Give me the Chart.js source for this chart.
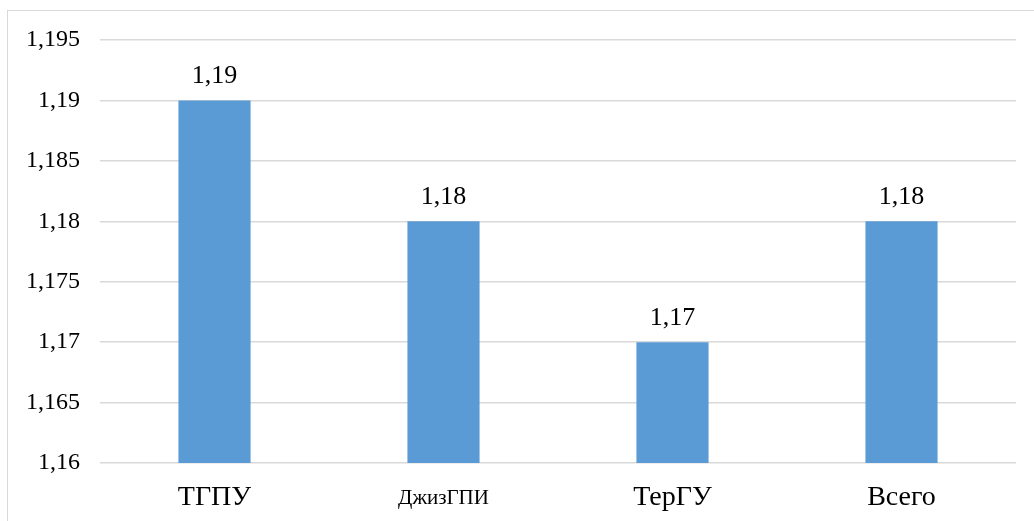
<!DOCTYPE html>
<html>
<head>
<meta charset="utf-8">
<script src="https://cdn.jsdelivr.net/npm/chart.js@4"></script>
<style>
  html, body { margin: 0; padding: 0; background: #fff; }
  #wrap { position: relative; width: 1034px; height: 521px; overflow: hidden; }
  #frame { position: absolute; left: 7px; top: 10px; width: 1040px; height: 530px; border: 1px solid #d9d9d9; box-sizing: border-box; }
  canvas { position: absolute; left: 0; top: 0; }
</style>
</head>
<body>
<div id="wrap">
  <div id="frame"></div>
  <canvas id="c" width="1034" height="521"></canvas>
</div>
<script>
// данные диаграммы
const categories = ['ТГПУ', 'ДжизГПИ', 'ТерГУ', 'Всего'];
const values = [1.19, 1.18, 1.17, 1.18];
const yMin = 1.16;
const yMax = 1.195;
const yStep = 0.005;

const fmt = v => Number(v.toFixed(3)).toString().replace('.', ',');

// подписи над столбцами
const barLabels = {
    id: 'barLabels',
    afterDatasetsDraw(chart) {
        const ctx = chart.ctx;
        const meta = chart.getDatasetMeta(0);
        ctx.save();
        ctx.font = '26px "Liberation Serif"';
        ctx.fillStyle = '#000';
        ctx.textAlign = 'center';
        ctx.textBaseline = 'alphabetic';
        meta.data.forEach((bar, i) => {
            ctx.fillText(fmt(values[i]), bar.x, bar.y - 17);
        });
        ctx.restore();
    }
};

new Chart(document.getElementById('c'), {
    type: 'bar',
    data: {
        labels: categories,
        datasets: [{
            data: values,
            backgroundColor: '#5b9bd5',
            categoryPercentage: 1,
            barPercentage: 0.315
        }]
    },
    options: {
        responsive: false,
        animation: false,
        layout: { padding: { left: 0, top: 40, right: 18, bottom: 0 } },
        plugins: {
            legend: { display: false },
            tooltip: { enabled: false }
        },
        scales: {
            x: {
                grid: { display: false },
                border: { display: false },
                afterFit: s => { s.height = 58; },
                ticks: {
                    color: '#000',
                    padding: 10,
                    maxRotation: 0,
                    font: c => ({ family: '"Liberation Serif"', size: c.index === 1 ? 21 : 28, lineHeight: '34px' })
                }
            },
            y: {
                min: yMin,
                max: yMax,
                afterFit: s => { s.width = 100; },
                grid: { color: '#d9d9d9', lineWidth: 1.5, drawTicks: false },
                border: { display: false },
                ticks: {
                    stepSize: yStep,
                    padding: 20,
                    color: '#000',
                    font: { family: '"Liberation Serif"', size: 24 },
                    callback: v => fmt(v)
                }
            }
        }
    },
    plugins: [barLabels]
});
</script>
</body>
</html>
